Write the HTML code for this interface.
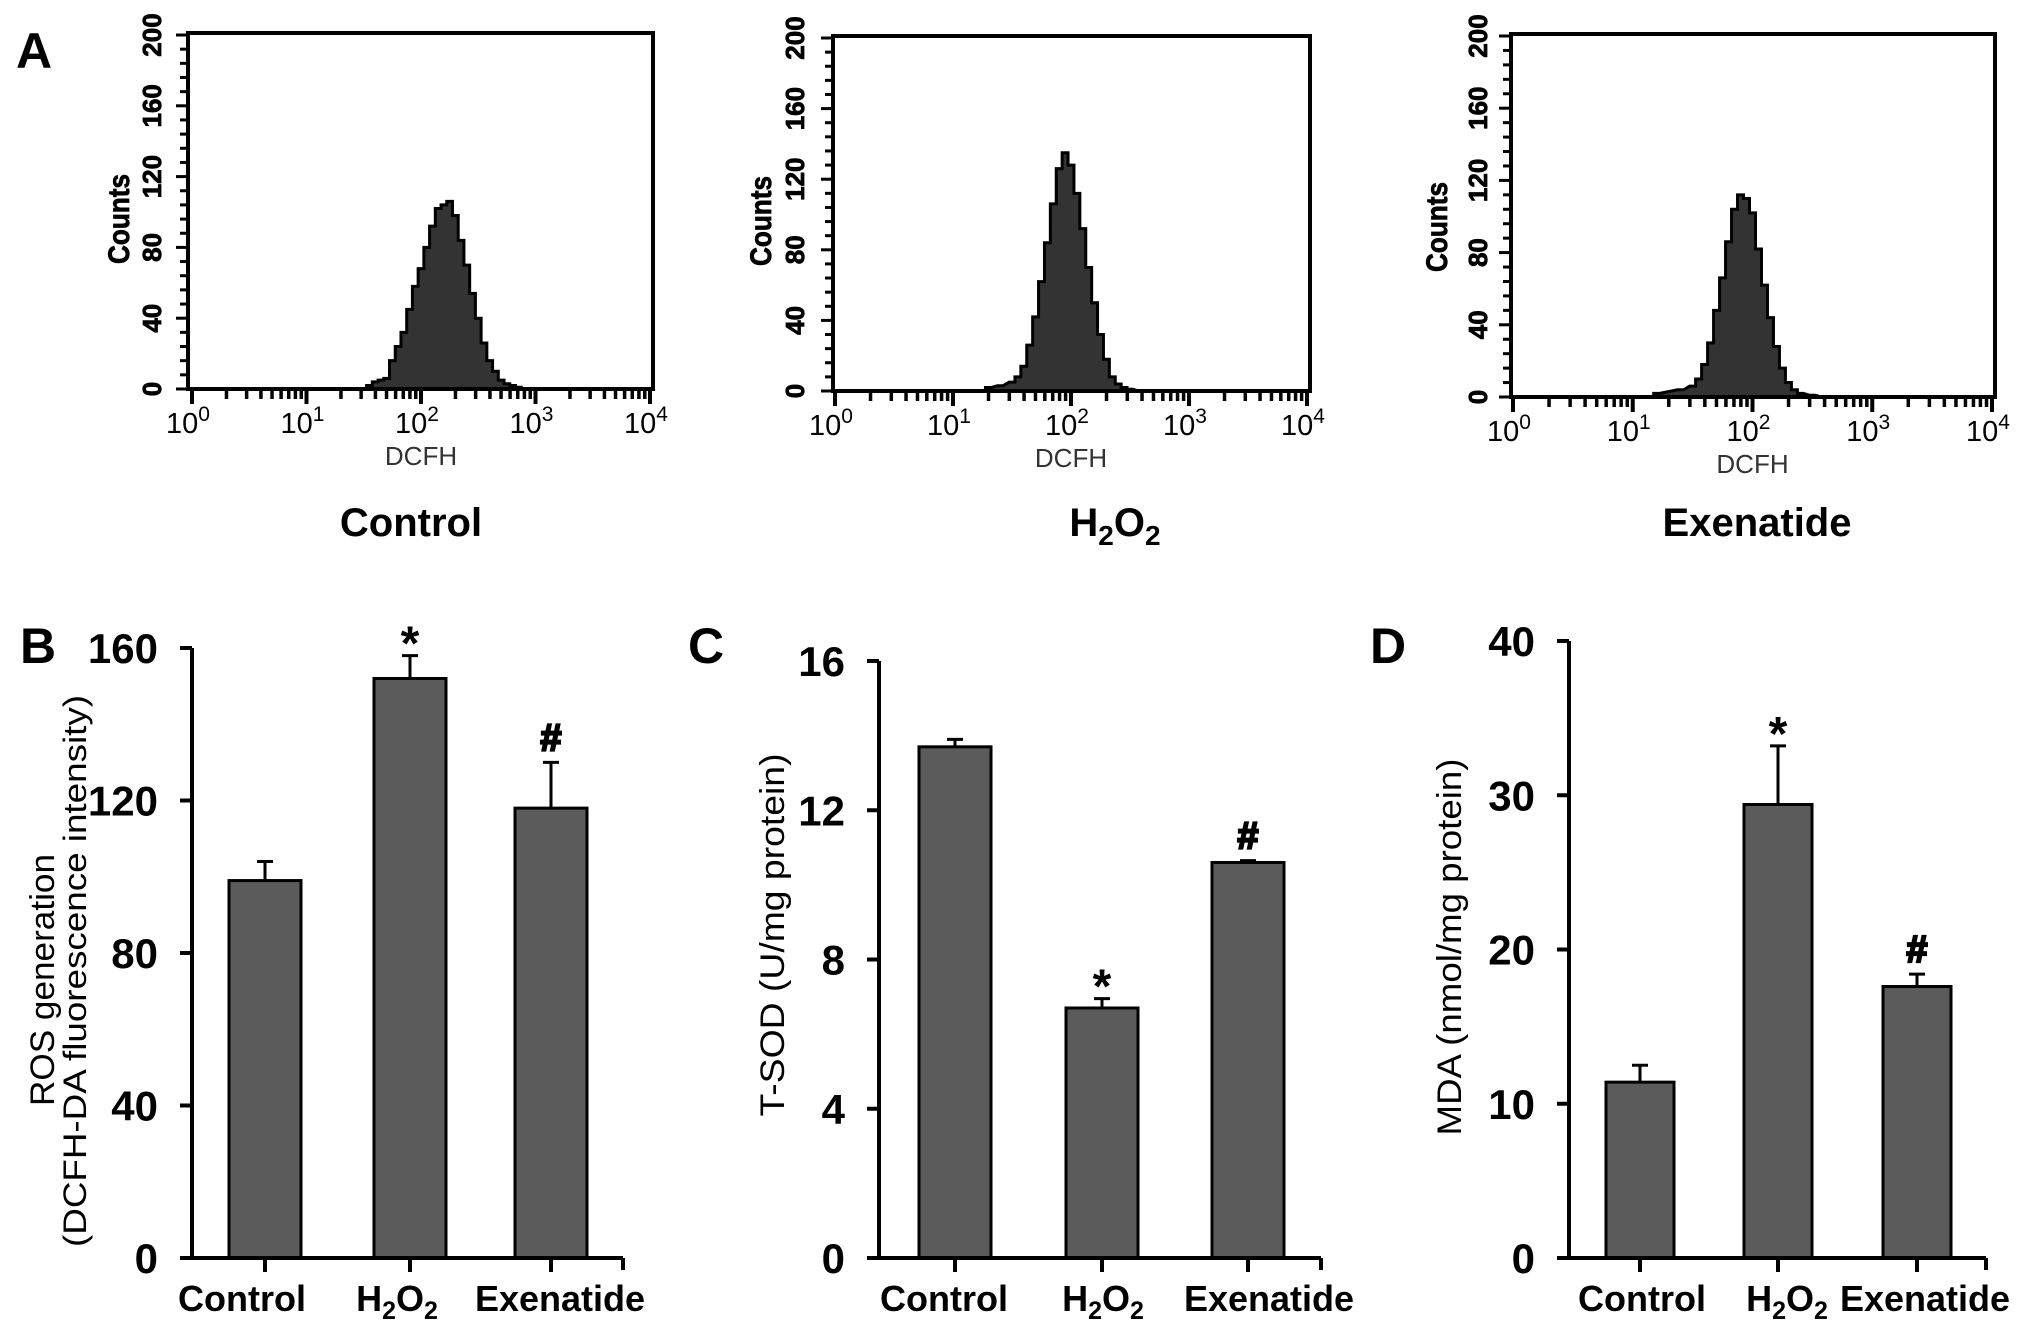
<!DOCTYPE html>
<html><head><meta charset="utf-8"><style>
html,body{margin:0;padding:0;background:#fff;}
svg{display:block;font-family:"Liberation Sans",Arial,sans-serif;}
</style></head><body>
<svg id="fig" width="2031" height="1331" viewBox="0 0 2031 1331" xmlns="http://www.w3.org/2000/svg">
<rect width="2031" height="1331" fill="#fff"/>
<text x="16" y="68" font-size="50" font-weight="bold">A</text>
<text x="20" y="663" font-size="50" font-weight="bold">B</text>
<text x="688" y="663" font-size="50" font-weight="bold">C</text>
<text x="1370" y="663" font-size="50" font-weight="bold">D</text>
</svg>
<script>
// ---- histogram data (log10 DCFH position, counts) ----
const ctrlLog = [1.55,1.6,1.65,1.7,1.75,1.8,1.85,1.9,1.95,2.0,2.05,2.1,2.15,2.2,2.25,2.3,2.35,2.4,2.45,2.5,2.55,2.6,2.65,2.7,2.75,2.8,2.85,2.9];
const ctrlCounts = [2,4,5,6,16,24,32,45,58,68,80,92,102,104,106,98,84,70,54,40,26,16,10,5,3,2,1,0];
const h2o2Log = [1.3,1.4,1.5,1.55,1.6,1.65,1.7,1.75,1.8,1.85,1.9,1.95,2.0,2.05,2.1,2.15,2.2,2.25,2.3,2.35,2.4,2.45,2.5,2.6];
const h2o2Counts = [2,3,5,8,14,26,42,62,84,106,126,135,128,112,92,70,50,32,18,8,4,2,1,0];
const exeLog = [1.2,1.4,1.5,1.55,1.6,1.65,1.7,1.75,1.8,1.85,1.9,1.95,2.0,2.05,2.1,2.15,2.2,2.25,2.3,2.35,2.4,2.5,2.6];
const exeCounts = [2,4,6,10,18,30,48,66,86,104,112,110,102,82,62,44,28,16,8,4,2,1,0];
const histYTicks = [0,40,80,120,160,200];
const logDecades = [0,1,2,3,4];
// ---- bar data ----
const groups = ["Control","H2O2","Exenatide"];
const rosValues = [99,152,118];
const rosErr = [5,6,12];
const rosTicks = [0,40,80,120,160];
const sodValues = [13.7,6.7,10.6];
const sodErr = [0.2,0.25,0.05];
const sodTicks = [0,4,8,12,16];
const mdaValues = [11.4,29.4,17.6];
const mdaErr = [1.1,3.8,0.8];
const mdaTicks = [0,10,20,30,40];
const rosMarks = ["","*","#"];
const sodMarks = ["","*","#"];
const mdaMarks = ["","*","#"];

const NS="http://www.w3.org/2000/svg";
const svg=document.getElementById('fig');
function el(tag,attrs,parent){const e=document.createElementNS(NS,tag);for(const k in attrs)e.setAttribute(k,attrs[k]);(parent||svg).appendChild(e);return e;}

function histogram(p){
  const g=el('g',{});
  
  
  const xs=v=>p.x0+(p.x4-p.x0)*v/4;
  const ys=v=>p.zero-(p.zero-p.top-2)*v/200;
  let d='M'+xs(p.lx[0]-0.025)+','+p.zero;
  for(let i=0;i<p.lx.length;i++){
    const a=xs(p.lx[i]-0.025), b=xs(p.lx[i]+0.025);
    d+=' L'+a+','+ys(p.cnt[i])+' L'+b+','+ys(p.cnt[i]);
  }
  d+=' L'+xs(p.lx[p.lx.length-1]+0.025)+','+p.zero+' Z';
  const h=el('path',{d:d,fill:'#333',stroke:'#000','stroke-width':3,'stroke-linejoin':'miter'},g);
  
  
  const fr=el('rect',{x:p.left,y:p.top,width:p.right-p.left,height:p.zero-p.top,fill:'none',stroke:'#000','stroke-width':4},g);
  
  
  for(let v=0;v<=200;v+=8){
    const major=(v%40===0);
    el('line',{x1:p.left-(major?12:8),x2:p.left,y1:ys(v),y2:ys(v),stroke:'#000','stroke-width':3},g);
  }
  histYTicks.forEach(v=>{
    const t=el('text',{x:0,y:0,'font-size':26,'font-weight':'bold','text-anchor':'middle',stroke:'#000','stroke-width':0.8,transform:'translate('+(p.ylx+9)+','+ys(v)+') rotate(-90)'},g);
    t.textContent=v;
    
    
  });
  const ct=el('text',{x:0,y:0,'font-size':30,'font-weight':'bold','text-anchor':'middle',stroke:'#000','stroke-width':0.8,textLength:90,lengthAdjust:'spacingAndGlyphs',transform:'translate('+(p.cx+11)+','+(p.zero-170)+') rotate(-90)'},g);
  ct.textContent='Counts';
  
  
  for(let dec=0;dec<4;dec++){
    for(let m=1;m<10;m++){
      const v=dec+Math.log10(m);
      el('line',{x1:xs(v),x2:xs(v),y1:p.zero,y2:p.zero+(m===1?15:10),stroke:'#000','stroke-width':m===1?4:3.5},g);
    }
  }
  el('line',{x1:xs(4),x2:xs(4),y1:p.zero,y2:p.zero+15,stroke:'#000','stroke-width':4},g);
  logDecades.forEach(dv=>{
    const t=el('text',{x:xs(dv)-4,y:p.zero+44,'font-size':29,'text-anchor':'middle'},g);
    t.textContent='10';
    const s=el('tspan',{dy:-12,'font-size':21},t);
    s.textContent=dv;
    
    
  });
  const dc=el('text',{x:xs(2),y:p.zero+76,'font-size':26,'text-anchor':'middle',fill:'#333'},g);
  dc.textContent='DCFH';
  
  
  const ti=el('text',{x:p.tx,y:536,'font-size':40,'font-weight':'bold','text-anchor':'middle'},g);
  if(p.title==='H2O2'){ti.innerHTML='H<tspan font-size="28" dy="9">2</tspan><tspan dy="-9">O</tspan><tspan font-size="28" dy="9">2</tspan>';}
  else ti.textContent=p.title;
  
  
}

histogram({name:'histogram-control',lx:ctrlLog,cnt:ctrlCounts,left:188,right:653,top:33,zero:389,x0:192,x4:650,ylx:152,cx:118,tx:411,title:'Control'});
histogram({name:'histogram-h2o2',lx:h2o2Log,cnt:h2o2Counts,left:833,right:1310,top:36,zero:391,x0:835,x4:1307,ylx:795,cx:760,tx:1115,title:'H2O2'});
histogram({name:'histogram-exenatide',lx:exeLog,cnt:exeCounts,left:1511,right:1995,top:34,zero:397,x0:1513,x4:1992,ylx:1478,cx:1436,tx:1757,title:'Exenatide'});

function barChart(p){
  const g=el('g',{});
  
  
  const max=p.ticks[p.ticks.length-1];
  const ys=v=>p.y0-(p.y0-p.ytop)*v/max;
  p.vals.forEach((v,i)=>{
    const cx=p.centers[i];
    const eb=el('path',{d:'M'+cx+','+ys(v)+' V'+ys(v+p.err[i])+' M'+(cx-8)+','+ys(v+p.err[i])+' H'+(cx+8),stroke:'#000','stroke-width':3,fill:'none'},g);
    
    
    const r=el('rect',{x:cx-p.bw/2,y:ys(v),width:p.bw,height:p.y0-ys(v),fill:'#5b5b5b',stroke:'#000','stroke-width':3},g);
    
    
    if(p.marks[i]){
      const et=ys(v+p.err[i]);
      const isStar=p.marks[i]==='*';
      const m=el('text',{x:cx,y:isStar?et+4:et-12,'font-size':isStar?48:38,'font-weight':'bold','text-anchor':'middle',stroke:'#000','stroke-width':isStar?0:2.2},g);
      m.textContent=p.marks[i];
      
      
    }
  });
  el('line',{x1:p.ax,x2:p.ax,y1:p.ytop,y2:p.y0,stroke:'#000','stroke-width':4},g);
  el('line',{x1:p.ax-12,x2:p.xend,y1:p.y0,y2:p.y0,stroke:'#000','stroke-width':4},g);
  el('line',{x1:p.xend,x2:p.xend,y1:p.y0,y2:p.y0+12,stroke:'#000','stroke-width':4},g);
  p.ticks.forEach(v=>{
    el('line',{x1:p.ax-12,x2:p.ax,y1:ys(v),y2:ys(v),stroke:'#000','stroke-width':4},g);
    const t=el('text',{x:p.ax-34,y:ys(v)+15,'font-size':42,'font-weight':'bold','text-anchor':'end'},g);
    t.textContent=v;
    
    
  });
  groups.forEach((c,i)=>{
    el('line',{x1:p.centers[i],x2:p.centers[i],y1:p.y0,y2:p.y0+14,stroke:'#000','stroke-width':4},g);
    const t=el('text',{x:p.lab[i],y:1311,'font-size':36,'font-weight':'bold','text-anchor':'middle'},g);
    if(c==='H2O2')t.innerHTML='H<tspan font-size="25" dy="8">2</tspan><tspan dy="-8">O</tspan><tspan font-size="25" dy="8">2</tspan>';
    else t.textContent=c;
    
    
  });
  p.titles.forEach(tt=>{
    const t=el('text',{x:0,y:0,'font-size':tt.fs,'text-anchor':'middle',textLength:tt.len,lengthAdjust:'spacingAndGlyphs',transform:'translate('+(tt.x+12)+','+tt.y+') rotate(-90)'},g);
    t.textContent=tt.text;
    
    
  });
}

barChart({name:'chart-ros',vals:rosValues,err:rosErr,ticks:rosTicks,marks:rosMarks,ax:192,y0:1258,ytop:648,xend:623,centers:[265,410,551],lab:[242,397,560],bw:72,
  titles:[{text:'ROS generation',x:42,y:980,len:252,fs:34},{text:'(DCFH-DA fluorescence intensity)',x:74,y:971,len:552,fs:32}]});
barChart({name:'chart-tsod',vals:sodValues,err:sodErr,ticks:sodTicks,marks:sodMarks,ax:879,y0:1258,ytop:661,xend:1321,centers:[955,1102,1248],lab:[944,1103,1269],bw:72,
  titles:[{text:'T-SOD (U/mg protein)',x:772,y:935,len:363,fs:34}]});
barChart({name:'chart-mda',vals:mdaValues,err:mdaErr,ticks:mdaTicks,marks:mdaMarks,ax:1569,y0:1258,ytop:641,xend:1986,centers:[1640,1778,1917],lab:[1642,1787,1925],bw:68,
  titles:[{text:'MDA (nmol/mg protein)',x:1449,y:947,len:377,fs:34}]});
</script>
</body></html>
